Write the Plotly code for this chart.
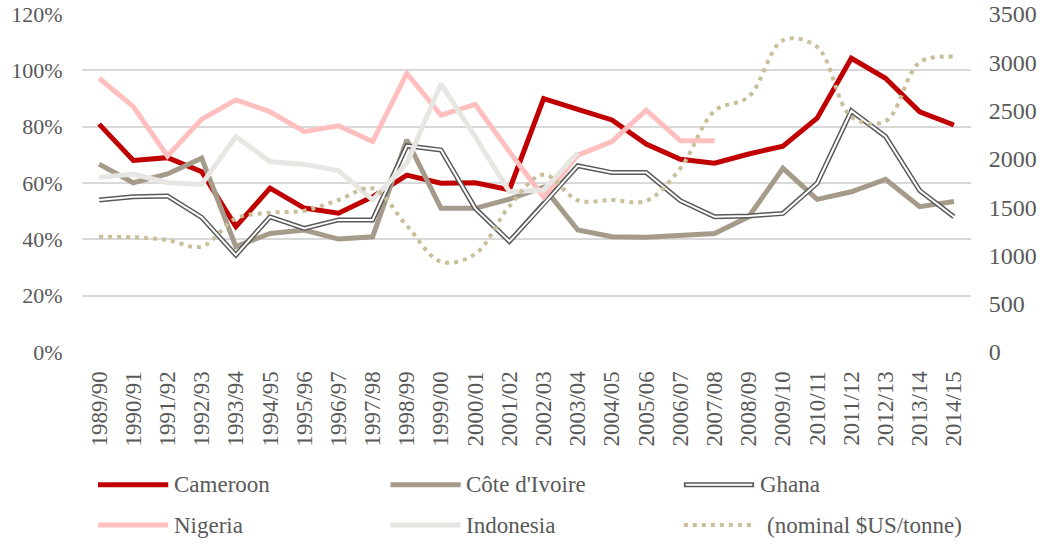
import plotly.graph_objects as go

seasons = ["1989/90", "1990/91", "1991/92", "1992/93", "1993/94", "1994/95", "1995/96",
           "1996/97", "1997/98", "1998/99", "1999/00", "2000/01", "2001/02", "2002/03",
           "2003/04", "2004/05", "2005/06", "2006/07", "2007/08", "2008/09", "2009/10",
           "2010/11", "2011/12", "2012/13", "2013/14", "2014/15"]

cameroon = [80.9, 68.0, 69.0, 64.0, 44.5, 58.2, 51.1, 49.3, 55.1, 62.8, 59.9, 60.1, 57.6,
            90.0, 86.1, 82.4, 73.8, 68.4, 67.0, 70.3, 73.1, 83.0, 104.3, 97.2, 85.3, 80.6]
cote_divoire = [66.7, 60.1, 63.2, 68.8, 37.4, 42.1, 43.3, 40.1, 40.9, 75.3, 51.0, 51.0, 54.3,
                58.5, 43.3, 40.9, 40.7, 41.2, 42.1, 48.0, 65.2, 54.2, 56.9, 61.3, 51.6, 53.4]
ghana = [54.0, 55.1, 55.4, 47.8, 34.4, 48.0, 43.9, 46.9, 46.9, 73.2, 71.7, 51.0, 39.3,
         52.5, 66.1, 63.7, 63.7, 53.7, 48.0, 48.3, 49.2, 59.9, 85.6, 76.5, 57.3, 48.0]
nigeria = [97.2, 87.1, 69.6, 82.6, 89.5, 85.3, 78.2, 80.3, 74.7, 98.9, 84.1, 87.9, 71.1,
           55.0, 69.9, 74.7, 85.9, 75.0, 75.0, None, None, None, None, None, None, None]
indonesia = [62.0, 63.2, 60.1, 59.5, 76.5, 67.6, 66.6, 64.4, 54.0, 67.0, 95.2, 76.5, 56.9,
             57.5, 70.8, None, None, None, None, None, None, None, None, None, None, None]
price = [1194, 1188, 1160, 1090, 1384, 1442, 1463, 1574, 1695, 1308, 935, 1015, 1510,
         1838, 1570, 1574, 1564, 1902, 2496, 2644, 3227, 3160, 2436, 2390, 3000, 3058]

pct_ticks = [0, 20, 40, 60, 80, 100, 120]
pct_labels = ["0%", "20%", "40%", "60%", "80%", "100%", "120%"]
price_ticks = [0, 500, 1000, 1500, 2000, 2500, 3000, 3500]

FONT = "Liberation Serif"
TXT = "#595959"

c_cam = "#c00000"
c_civ = "#a59b8a"
c_gha = "#595959"
c_nig = "#ffbfbf"
c_ind = "#e7e6e2"
c_price = "#c9bf9a"

fig = go.Figure()

def add_line(y, color, width, name, yaxis="y", dash="solid", shape="linear"):
    fig.add_trace(go.Scatter(x=seasons, y=y, mode="lines", name=name, yaxis=yaxis,
                             line=dict(color=color, width=width, dash=dash, shape=shape),
                             connectgaps=False, showlegend=False, hoverinfo="skip"))

add_line(cameroon, c_cam, 5, "Cameroon")
add_line(cote_divoire, c_civ, 5, "Côte d'Ivoire")
add_line(ghana, c_gha, 5, "Ghana")
add_line(ghana, "#ffffff", 2, "Ghana (inner)")
add_line(nigeria, c_nig, 5, "Nigeria")
add_line(indonesia, c_ind, 5, "Indonesia")
add_line(price, c_price, 4, "(nominal $US/tonne)", yaxis="y2", dash="4px,5px", shape="spline")

# manual legend
legend_items = [
    ("Cameroon", c_cam, None, 0.018, -0.393),
    ("Côte d'Ivoire", c_civ, None, 0.347, -0.393),
    ("Ghana", c_gha, "#ffffff", 0.677, -0.393),
    ("Nigeria", c_nig, None, 0.018, -0.512),
    ("Indonesia", c_ind, None, 0.347, -0.512),
    ("(nominal $US/tonne)", c_price, "dot", 0.677, -0.512),
]
shapes = []
annotations = []
for name, col, extra, x0, yy in legend_items:
    x1 = x0 + 0.079
    if extra == "dot":
        shapes.append(dict(type="line", xref="paper", yref="paper", x0=x0, x1=x1, y0=yy, y1=yy,
                           line=dict(color=col, width=4, dash="4px,5px")))
    else:
        shapes.append(dict(type="line", xref="paper", yref="paper", x0=x0, x1=x1, y0=yy, y1=yy,
                           line=dict(color=col, width=5)))
        if extra:
            shapes.append(dict(type="line", xref="paper", yref="paper", x0=x0 + 0.002, x1=x1 - 0.002,
                               y0=yy, y1=yy, line=dict(color=extra, width=2)))
    xt = x1 + 0.004
    if extra == "dot":
        xt = x1 + 0.012
    annotations.append(dict(xref="paper", yref="paper", x=xt, y=yy, text=name, showarrow=False,
                            xanchor="left", yanchor="middle",
                            font=dict(family=FONT, size=23, color=TXT)))

fig.update_layout(
    width=1054, height=544,
    margin=dict(l=82, r=83, t=14, b=192),
    paper_bgcolor="white", plot_bgcolor="white",
    font=dict(family=FONT, size=20, color=TXT),
    showlegend=False,
    shapes=shapes,
    annotations=annotations,
    xaxis=dict(type="category", range=[-0.5, len(seasons) - 0.5], tickangle=-90,
               showgrid=False, zeroline=False, automargin=False,
               showline=False, ticks="outside", ticklen=9, tickcolor="rgba(0,0,0,0)",
               tickfont=dict(family=FONT, size=23, color=TXT)),
    yaxis=dict(range=[0, 120], tickvals=pct_ticks, ticktext=pct_labels, showgrid=True,
               gridcolor="#d9d9d9", gridwidth=1.5, zeroline=False, showline=False, automargin=False,
               ticks="outside", ticklen=14, tickcolor="rgba(0,0,0,0)",
               tickfont=dict(family=FONT, size=22, color=TXT)),
    yaxis2=dict(range=[0, 3500], tickvals=price_ticks, overlaying="y", side="right",
                showgrid=False, zeroline=False, showline=False, automargin=False,
                ticks="outside", ticklen=12, tickcolor="rgba(0,0,0,0)",
                tickfont=dict(family=FONT, size=24, color=TXT)),
)

fig.write_html("out.html", config={"displayModeBar": False},
               post_script="document.body.style.margin='0';document.body.style.overflow='hidden';")
